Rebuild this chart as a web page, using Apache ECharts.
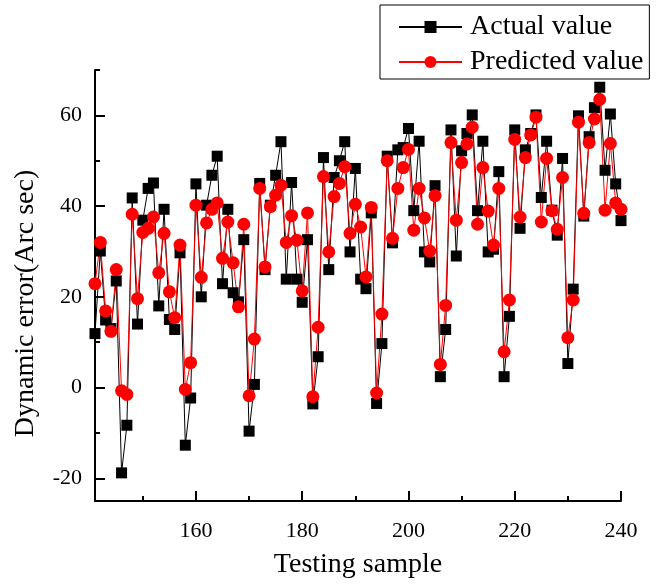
<!DOCTYPE html>
<html>
<head>
<meta charset="utf-8">
<title>Dynamic error</title>
<script src="https://cdn.jsdelivr.net/npm/echarts@6/dist/echarts.min.js"></script>
<style>
    html, body { margin: 0; padding: 0; background: #fff; }
    #main { width: 657px; height: 585px; }
</style>
</head>
<body>
<div id="main"></div>
<script>
// 样本编号从 141 开始，共 100 个
var firstSample = 141;

// 实际值 (Arc sec)
var actualValues = [
    11.9, 30.1, 14.9, 13.0, 23.5, -18.8, -8.3, 41.8, 14.0, 36.9,
    43.9, 45.1, 18.0, 39.3, 15.0, 12.8, 29.7, -12.7, -2.3, 44.9,
    20.0, 40.2, 46.8, 51.0, 22.9, 39.3, 20.9, 18.9, 32.6, -9.6,
    0.7, 45.0, 26.0, 40.2, 46.8, 54.2, 23.9, 45.2, 23.9, 18.8,
    32.6, -3.6, 6.8, 50.7, 26.0, 46.3, 50.0, 54.2, 29.9, 48.3,
    23.9, 21.8, 38.5, -3.5, 9.7, 51.0, 31.9, 52.4, 52.9, 57.1,
    39.0, 54.3, 29.9, 27.7, 44.5, 2.4, 12.8, 56.8, 29.0, 52.2,
    56.0, 60.1, 39.0, 54.3, 29.9, 30.5, 47.6, 2.4, 15.7, 56.8,
    35.1, 52.4, 56.0, 60.1, 41.9, 54.3, 39.1, 33.6, 50.5, 5.3,
    21.7, 59.9, 37.8, 55.3, 61.7, 66.2, 47.9, 60.3, 44.9, 36.8
];

// 预测值 (Arc sec)
var predictedValues = [
    22.9, 32.0, 16.9, 12.4, 26.0, -0.7, -1.5, 38.2, 19.6, 34.2,
    35.1, 37.6, 25.3, 34.0, 21.1, 15.4, 31.4, -0.4, 5.5, 40.2,
    24.3, 36.3, 39.3, 40.7, 28.5, 36.5, 27.5, 17.8, 36.0, -1.8,
    10.7, 43.9, 26.6, 39.9, 42.4, 44.6, 32.0, 37.9, 32.5, 21.3,
    38.5, -2.0, 13.3, 46.5, 29.9, 42.1, 45.0, 48.7, 34.0, 40.4,
    35.4, 24.4, 39.7, -1.2, 16.2, 50.0, 32.9, 43.9, 48.5, 52.5,
    34.7, 43.9, 37.4, 30.1, 42.3, 5.1, 18.1, 54.0, 36.9, 49.6,
    53.7, 57.4, 36.0, 48.5, 38.9, 31.4, 43.9, 7.9, 19.3, 54.7,
    37.6, 50.7, 55.7, 59.6, 36.5, 50.5, 39.0, 34.9, 46.3, 11.0,
    19.3, 58.5, 38.4, 54.0, 59.2, 63.5, 39.1, 53.8, 40.7, 39.3
];

// 刻度
var xMajorTicks = [160, 180, 200, 220, 240];
var xMinorTicks = [150, 170, 190, 210, 230];
var yMajorTicks = [-20, 0, 20, 40, 60];
var yMinorTicks = [-10, 10, 30, 50, 70];

var fontFamily = '"Liberation Serif", "Times New Roman", serif';

function toPairs(values) {
    var out = [];
    for (var i = 0; i < values.length; i++) {
        out.push([firstSample + i, values[i]]);
    }
    return out;
}

// 主坐标轴：带标签和长刻度
function majorAxis(min, max, ticks, labelMargin, extra) {
    var axis = {
        type: 'value',
        min: min,
        max: max,
        splitLine: { show: false },
        axisLine: { show: true, onZero: false, lineStyle: { color: '#000', width: 2 } },
        axisTick: { show: true, inside: true, length: 10, customValues: ticks, lineStyle: { color: '#000', width: 2 } },
        axisLabel: { show: true, customValues: ticks, margin: labelMargin, color: '#000', fontSize: 22, fontFamily: fontFamily }
    };
    for (var k in extra) axis[k] = extra[k];
    return axis;
}

// 次坐标轴：只画短刻度 (不能贴在 0 上)
function minorAxis(min, max, ticks, position) {
    return {
        type: 'value',
        position: position,
        min: min,
        max: max,
        splitLine: { show: false },
        axisLine: { show: false, onZero: false },
        axisTick: { show: true, inside: true, length: 5, customValues: ticks, lineStyle: { color: '#000', width: 2 } },
        axisLabel: { show: false }
    };
}

var option = {
    backgroundColor: '#fff',
    animation: false,
    grid: { left: 95, right: 36, top: 70, bottom: 84 },
    legend: {
        orient: 'vertical',
        left: 380,
        top: 5,
        padding: [8, 6, 3, 18],
        itemGap: 7,
        itemWidth: 63,
        itemHeight: 15,
        borderColor: '#000',
        borderWidth: 1,
        borderRadius: 0,
        textStyle: { color: '#000', fontSize: 28, fontFamily: fontFamily, padding: [0, 0, 0, 3] },
        data: ['Actual value', 'Predicted value']
    },
    xAxis: [
        majorAxis(firstSample, 240, xMajorTicks, 19, {
            position: 'bottom',
            name: 'Testing sample',
            nameLocation: 'middle',
            nameGap: 50,
            nameTextStyle: { color: '#000', fontSize: 28, fontFamily: fontFamily }
        }),
        minorAxis(firstSample, 240, xMinorTicks, 'bottom')
    ],
    yAxis: [
        majorAxis(-25, 70, yMajorTicks, 13, {
            position: 'left',
            name: 'Dynamic error(Arc sec)',
            nameLocation: 'middle',
            nameGap: 55,
            nameTextStyle: { color: '#000', fontSize: 28, fontFamily: fontFamily, padding: [0, 36, 0, 0] }
        }),
        minorAxis(-25, 70, yMinorTicks, 'left')
    ],
    series: [
        {
            name: 'Actual value',
            type: 'line',
            xAxisIndex: 0,
            yAxisIndex: 0,
            symbol: 'rect',
            symbolSize: 11,
            itemStyle: { color: '#000' },
            lineStyle: { color: '#000', width: 1 },
            data: toPairs(actualValues)
        },
        {
            name: 'Predicted value',
            type: 'line',
            xAxisIndex: 0,
            yAxisIndex: 0,
            symbol: 'circle',
            symbolSize: 13,
            itemStyle: { color: '#ff0000' },
            lineStyle: { color: '#ff0000', width: 1 },
            data: toPairs(predictedValues)
        }
    ]
};

var myChart = echarts.init(document.getElementById('main'));
myChart.setOption(option);
</script>
</body>
</html>
